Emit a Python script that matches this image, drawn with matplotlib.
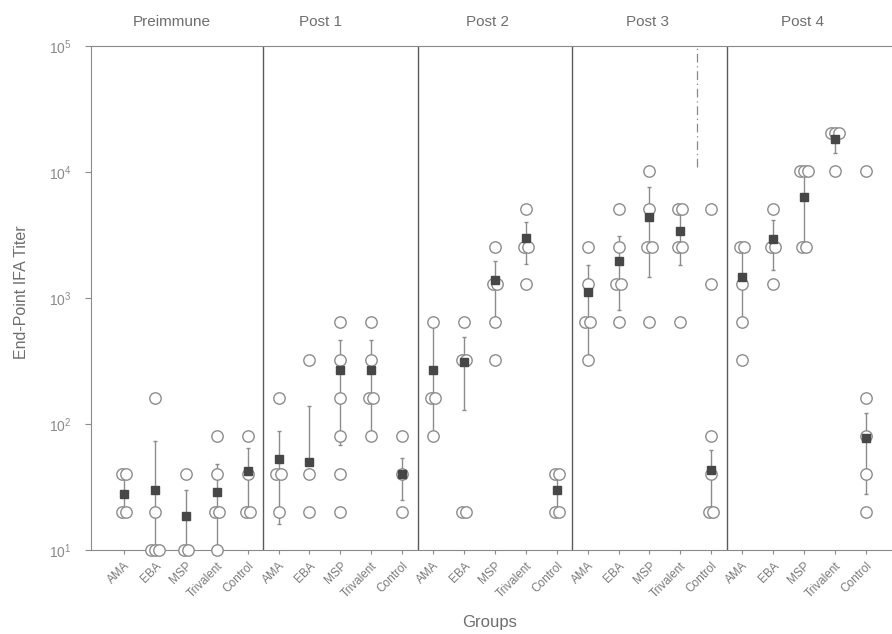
import matplotlib
matplotlib.use('Agg')
import matplotlib.pyplot as plt
import matplotlib.transforms as mtransforms
import numpy as np

plt.rcParams['font.family'] = ['Liberation Sans', 'DejaVu Sans']

# groups within each bleed, and the bleeds
groups = ['AMA', 'EBA', 'MSP', 'Trivalent', 'Control']
phases = ['Preimmune', 'Post 1', 'Post 2', 'Post 3', 'Post 4']

# individual end-point titers (one list per group)
pre_titers = [[40, 40, 20, 20], [160, 20, 10, 10, 10], [40, 10, 10],
              [80, 40, 20, 20, 10], [80, 40, 20, 20]]
post1_titers = [[160, 40, 40, 20], [320, 40, 20], [640, 320, 160, 80, 40, 20],
                [640, 320, 160, 160, 80], [80, 40, 20]]
post2_titers = [[640, 160, 160, 80], [640, 320, 320, 20, 20],
                [2560, 1280, 1280, 640, 320], [5120, 2560, 2560, 1280],
                [40, 40, 20, 20]]
post3_titers = [[2560, 1280, 640, 640, 320], [5120, 2560, 1280, 1280, 640],
                [10240, 5120, 2560, 2560, 640], [5120, 5120, 2560, 2560, 640],
                [5120, 1280, 80, 40, 20, 20]]
post4_titers = [[2560, 2560, 1280, 640, 320], [5120, 2560, 2560, 1280],
                [10240, 10240, 10240, 2560, 2560], [20480, 20480, 20480, 10240],
                [10240, 160, 80, 40, 20]]

# group means (filled squares) and error bar ends
pre_means = [28, 30, 18.6, 29, 42]
pre_lo = [20, 10, 10, 10, 22]
pre_hi = [38, 73, 30, 48, 65]

post1_means = [53, 50, 268, 270, 40]
post1_lo = [16, 50, 68, 80, 25]
post1_hi = [88, 140, 465, 465, 54]

post2_means = [270, 310, 1400, 3000, 30]
post2_lo = [85, 128, 640, 1850, 20]
post2_hi = [600, 490, 1950, 4000, 40]

post3_means = [1120, 1960, 4400, 3400, 43]
post3_lo = [330, 800, 1470, 1820, 20]
post3_hi = [1820, 3100, 7600, 5120, 62]

post4_means = [1470, 2950, 6300, 18300, 77]
post4_lo = [640, 1660, 2560, 14100, 28]
post4_hi = [2560, 4150, 10240, 20480, 122]

all_titers = [pre_titers, post1_titers, post2_titers, post3_titers, post4_titers]
all_means = [pre_means, post1_means, post2_means, post3_means, post4_means]
all_lo = [pre_lo, post1_lo, post2_lo, post3_lo, post4_lo]
all_hi = [pre_hi, post1_hi, post2_hi, post3_hi, post4_hi]

GRAY = '#6e6e6e'
LIGHT = '#8c8c8c'

fig = plt.figure(figsize=(8.92, 6.34), dpi=100)
ax = fig.add_axes([91 / 892, 1 - 550 / 634, 801 / 892, 504 / 634])
ax.set_yscale('log')
ax.set_ylim(10, 1e5)
ax.set_xlim(-1.07, 24.85)

n_g = len(groups)
for p in range(len(phases)):
    for g in range(n_g):
        x = p * n_g + g
        vals = all_titers[p][g]
        m, lo, hi = all_means[p][g], all_lo[p][g], all_hi[p][g]

        # error bar first so the open circles sit on top of it
        ax.errorbar(x, m, yerr=[[m - lo], [hi - m]], fmt='none',
                    ecolor=LIGHT, elinewidth=1, capsize=1.5, zorder=2)

        # spread repeated titers a little sideways
        xs, ys = [], []
        for v in sorted(set(vals)):
            n = vals.count(v)
            for k in range(n):
                xs.append(x + (k - (n - 1) / 2) * 0.14)
                ys.append(v)
        ax.plot(xs, ys, 'o', mfc='white', mec=LIGHT, mew=1.0, ms=8.2,
                ls='none', zorder=3, clip_on=False)

        ax.plot(x, m, 's', color='#474747', ms=6.3, zorder=4, clip_on=False)

# panel dividers
for k in range(1, len(phases)):
    ax.axvline(k * n_g - 0.5, color='#5a5a5a', lw=1.0, zorder=1)

# stray dash-dot line in the Post 3 panel
ax.vlines(18.55, 1.1e4, 1e5, colors='#8a8a8a', lw=0.9,
          linestyles=(0, (7, 3, 1, 3)), zorder=1)

# panel titles above the frame
trans = mtransforms.blended_transform_factory(ax.transData, ax.transAxes)
title_x = [1.55, 6.35, 11.75, 16.95, 21.95]
for tx, name in zip(title_x, phases):
    ax.text(tx, 1.047, name, transform=trans, ha='center', va='center',
            fontsize=11, color=GRAY)

# axes cosmetics
ax.set_xticks(np.arange(len(phases) * n_g))
ax.set_xticklabels(groups * len(phases), rotation=45, ha='right',
                   rotation_mode='anchor', fontsize=8.5, color='#7a7a7a')
ax.tick_params(axis='x', length=3, color=LIGHT, pad=4)
ax.tick_params(axis='y', which='major', length=4, color=LIGHT, pad=10,
               labelsize=10, labelcolor='#8a8a8a')
ax.tick_params(axis='y', which='minor', length=0)
ax.yaxis.set_minor_locator(matplotlib.ticker.NullLocator())
for side in ['left', 'bottom', 'top']:
    ax.spines[side].set_color('#8a8a8a')
ax.spines['right'].set_visible(False)

fig.text(22 / 892, 1 - 292 / 634, 'End-Point IFA Titer', rotation=90,
         ha='center', va='center', fontsize=11.5, color=GRAY)
fig.text(490 / 892, 1 - 622 / 634, 'Groups', ha='center', va='center',
         fontsize=12, color=GRAY)

fig.savefig('out.png', dpi=100)
